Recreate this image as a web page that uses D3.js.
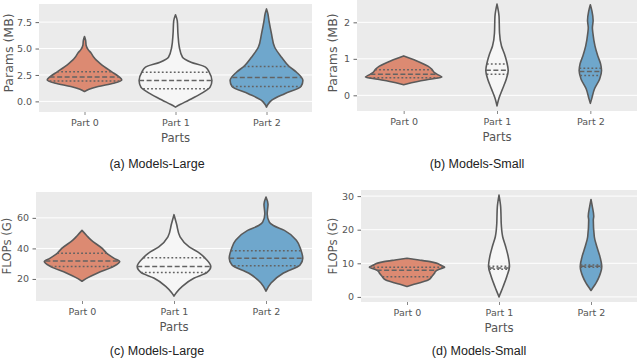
<!DOCTYPE html>
<html>
<head>
<meta charset="UTF-8">
<title>Violin panels</title>
<script src="https://d3js.org/d3.v7.min.js"></script>
<style>
  body { margin: 0; background: #fff; }
  svg { display: block; }
  .tick text { font-family: "DejaVu Sans", sans-serif; fill: #555; }
</style>
</head>
<body>
<script>
const W = 640, H = 359;

const parts = ["Part 0", "Part 1", "Part 2"];
const partColors = ["#dc8a72", "#f6f6f6", "#6fa7cc"];

// violin outlines: [value, half width in category units]
const paramsLargeP0 = [[6.13,0],[5.8,0.012],[5.3,0.018],[4.9,0.04],[4.6,0.07],[4.2,0.1],[3.9,0.13],[3.6,0.17],[3.27,0.22],[2.8,0.3],[2.33,0.38],[2.02,0.41],[1.71,0.32],[1.4,0.15],[1.15,0.05],[0.93,0]];
const paramsLargeP1 = [[8.2,0],[7.6,0.02],[6.39,0.027],[5.12,0.042],[4.18,0.077],[3.71,0.17],[3.24,0.33],[2.76,0.37],[1.98,0.40],[1.35,0.38],[0.73,0.28],[0.09,0.14],[-0.3,0.05],[-0.54,0]];
const paramsLargeP2 = [[8.75,0],[8.3,0.015],[7.64,0.027],[6.39,0.055],[5.12,0.09],[4.18,0.165],[3.3,0.25],[2.76,0.33],[1.98,0.40],[1.42,0.38],[0.73,0.2],[0.09,0.055],[-0.3,0.015],[-0.54,0]];

const paramsSmallP0 = [[1.08,0],[0.95,0.135],[0.8,0.26],[0.72,0.3],[0.62,0.33],[0.56,0.37],[0.5,0.41],[0.44,0.28],[0.38,0.15],[0.29,0]];
const paramsSmallP1 = [[2.5,0],[2.16,0.022],[1.71,0.027],[1.35,0.048],[1.13,0.08],[0.9,0.106],[0.68,0.12],[0.45,0.1],[0.18,0.06],[-0.09,0.02],[-0.29,0]];
const paramsSmallP2 = [[2.48,0],[2.3,0.018],[2.05,0.03],[1.85,0.022],[1.71,0.027],[1.35,0.05],[1.08,0.08],[0.86,0.11],[0.68,0.12],[0.45,0.1],[0.18,0.045],[-0.09,0.015],[-0.22,0]];

const flopsLargeP0 = [[51.8,0],[48.5,0.05],[45.4,0.1],[40,0.22],[36.8,0.27],[33.5,0.35],[31.4,0.41],[28.1,0.34],[23.9,0.17],[21,0.07],[18.5,0]];
const flopsLargeP1 = [[62.1,0],[56.1,0.027],[47.5,0.066],[41,0.165],[36.8,0.28],[33.5,0.34],[28.1,0.40],[24.3,0.36],[20.6,0.22],[15.2,0.09],[11,0.025],[8.8,0]];
const flopsLargeP2 = [[73.7,0],[69,0.022],[62.6,0.013],[57.2,0.036],[55,0.08],[51.8,0.2],[45.4,0.33],[38.9,0.38],[33.5,0.40],[29.2,0.37],[23.9,0.19],[17.4,0.055],[12,0]];

const flopsSmallP0 = [[11.5,0],[11.0,0.13],[10.5,0.25],[10.05,0.32],[9.4,0.37],[8.8,0.41],[8.2,0.35],[7.6,0.31],[7.1,0.3],[6.1,0.27],[5.1,0.235],[4.3,0.15],[3.6,0.06],[3.1,0]];
const flopsSmallP1 = [[30.3,0],[26.8,0.018],[24,0.022],[21.9,0.024],[17.9,0.04],[15,0.072],[12,0.1],[9.05,0.114],[6.1,0.085],[3.1,0.045],[0.7,0.01],[0,0]];
const flopsSmallP2 = [[29,0],[26.8,0.015],[24,0.03],[22.9,0.025],[17.9,0.036],[15,0.063],[12,0.097],[9.05,0.117],[6.1,0.09],[4.1,0.054],[2.5,0.015],[1.9,0]];

// quartiles [Q1, median, Q3] per part
const paramsLargeQ = [[1.93,2.3,2.8],[1.2,1.98,2.76],[1.42,2.25,3.3]];
const paramsSmallQ = [[0.48,0.58,0.70],[0.58,0.69,0.86],[0.54,0.65,0.74]];
const flopsLargeQ = [[28.1,31.8,36.8],[24.3,28.1,33.9],[28.6,33.5,38.5]];
const flopsSmallQ = [[6.0,7.9,8.8],[8.2,8.6,9.1],[8.8,9.1,9.5]];

const paramsLargeTicks = [0, 2.5, 5, 7.5];
const paramsSmallTicks = [0, 1, 2];
const flopsLargeTicks = [20, 40, 60];
const flopsSmallTicks = [0, 10, 20, 30];

const panels = [
  { violins: [paramsLargeP0, paramsLargeP1, paramsLargeP2], q: paramsLargeQ, ticks: paramsLargeTicks, fmt: ".1f",
    ylabel: "Params (MB)", caption: "(a) Models-Large", left: 39, right: 312, top: 4, bottom: 112,
    ylabX: 9, ylabY: 53, ylabSize: 12.5, capX: 157, capY: 167.5 },
  { violins: [paramsSmallP0, paramsSmallP1, paramsSmallP2], q: paramsSmallQ, ticks: paramsSmallTicks, fmt: "d",
    ylabel: "Params (MB)", caption: "(b) Models-Small", left: 357, right: 637, top: -1, bottom: 111,
    ylabX: 333, ylabY: 53, ylabSize: 12.5, capX: 477, capY: 167.5 },
  { violins: [flopsLargeP0, flopsLargeP1, flopsLargeP2], q: flopsLargeQ, ticks: flopsLargeTicks, fmt: "d",
    ylabel: "FLOPs (G)", caption: "(c) Models-Large", left: 36, right: 312, top: 192, bottom: 301,
    ylabX: 7, ylabY: 246, ylabSize: 11.7, capX: 157, capY: 355 },
  { violins: [flopsSmallP0, flopsSmallP1, flopsSmallP2], q: flopsSmallQ, ticks: flopsSmallTicks, fmt: "d",
    ylabel: "FLOPs (G)", caption: "(d) Models-Small", left: 361, right: 637, top: 190, bottom: 302,
    ylabX: 333, ylabY: 246, ylabSize: 11.7, capX: 479, capY: 355 }
];

const svg = d3.select("body").append("svg")
  .attr("width", W)
  .attr("height", H);

svg.append("rect").attr("width", W).attr("height", H).attr("fill", "#fff");

function widthAt(profile, v) {
  // linear interpolation of the outline at value v
  const pts = profile.slice().sort((a, b) => a[0] - b[0]);
  for (let i = 1; i < pts.length; i++) {
    if (v <= pts[i][0]) {
      const t = (v - pts[i - 1][0]) / (pts[i][0] - pts[i - 1][0]);
      return pts[i - 1][1] + t * (pts[i][1] - pts[i - 1][1]);
    }
  }
  return 0;
}

panels.forEach(p => {
  const g = svg.append("g");

  const all = p.violins.flat().map(d => d[0]);
  const lo = d3.min(all), hi = d3.max(all), pad = (hi - lo) * 0.05;

  const x = d3.scaleLinear().domain([-0.5, 2.5]).range([p.left, p.right]);
  const y = d3.scaleLinear().domain([lo - pad, hi + pad]).range([p.bottom, p.top]);

  g.append("rect")
    .attr("x", p.left).attr("y", p.top)
    .attr("width", p.right - p.left).attr("height", p.bottom - p.top)
    .attr("fill", "#ebebeb");

  // grid
  g.selectAll("line.grid").data(p.ticks).enter().append("line")
    .attr("x1", p.left).attr("x2", p.right)
    .attr("y1", d => y(d)).attr("y2", d => y(d))
    .attr("stroke", "#fff").attr("stroke-width", 1);

  // violins
  p.violins.forEach((prof, i) => {
    const area = d3.area()
      .curve(d3.curveMonotoneY)
      .y(d => y(d[0]))
      .x0(d => x(i - d[1]))
      .x1(d => x(i + d[1]));
    g.append("path")
      .datum(prof)
      .attr("d", area)
      .attr("fill", partColors[i])
      .attr("stroke", "#5a5a5a")
      .attr("stroke-width", 1.6)
      .attr("stroke-linejoin", "round");

    p.q[i].forEach((v, k) => {
      const w = widthAt(prof, v);
      g.append("line")
        .attr("x1", x(i - w)).attr("x2", x(i + w))
        .attr("y1", y(v)).attr("y2", y(v))
        .attr("stroke", "#636363")
        .attr("stroke-width", 1.5)
        .attr("stroke-dasharray", k === 1 ? "5,2.5" : "1.8,2.2");
    });
  });

  // axes
  const yAxis = d3.axisLeft(y).tickValues(p.ticks).tickFormat(d3.format(p.fmt))
    .tickSize(3.5).tickPadding(3.5);
  const ya = g.append("g").attr("transform", `translate(${p.left},0)`).call(yAxis);
  ya.select(".domain").remove();
  ya.selectAll(".tick line").attr("stroke", "#666");
  ya.selectAll(".tick text").style("font-size", "9.5px");

  const xAxis = d3.axisBottom(x).tickValues([0, 1, 2]).tickFormat(d => parts[d])
    .tickSize(3).tickPadding(4);
  const xa = g.append("g").attr("transform", `translate(0,${p.bottom})`).call(xAxis);
  xa.select(".domain").remove();
  xa.selectAll(".tick line").attr("stroke", "#888");
  xa.selectAll(".tick text").style("font-size", "9.5px");

  g.append("text")
    .attr("x", (p.left + p.right) / 2).attr("y", p.bottom + 30)
    .attr("text-anchor", "middle")
    .style("font-family", "DejaVu Sans, sans-serif").style("font-size", "11.7px")
    .attr("fill", "#555")
    .text("Parts");

  g.append("text")
    .attr("transform", `translate(${p.ylabX + 4},${p.ylabY}) rotate(-90)`)
    .attr("text-anchor", "middle")
    .style("font-family", "DejaVu Sans, sans-serif").style("font-size", p.ylabSize + "px")
    .attr("fill", "#555")
    .text(p.ylabel);

  g.append("text")
    .attr("x", p.capX).attr("y", p.capY)
    .attr("text-anchor", "middle")
    .style("font-family", "Liberation Sans, Arial, sans-serif").style("font-size", "12.5px")
    .attr("fill", "#222")
    .text(p.caption);
});
</script>
</body>
</html>
